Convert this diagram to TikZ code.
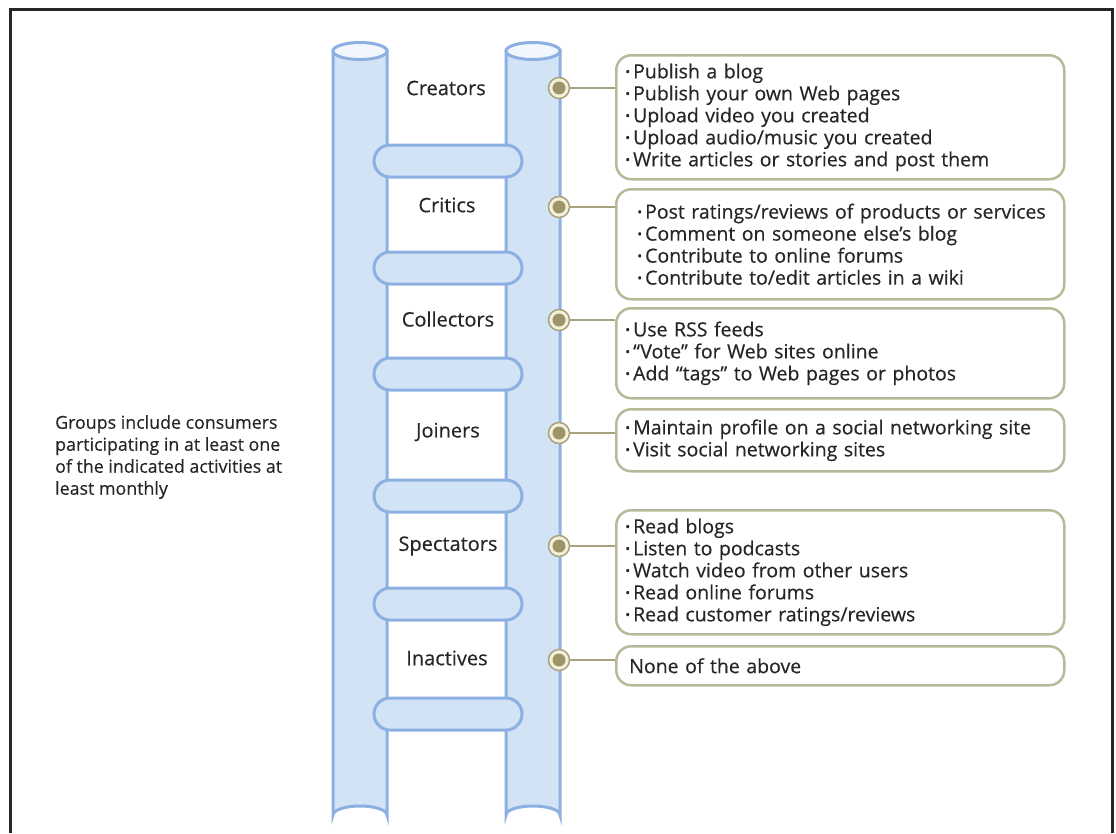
\documentclass[tikz,border=0pt]{standalone}
\usepackage{fontspec}
\setmainfont{Open Sans}[FakeBold=0.35]
\definecolor{poleFill}{HTML}{D2E3F6}
\definecolor{poleDraw}{HTML}{8CB0E2}
\definecolor{poleTop}{HTML}{F2F7FD}
\definecolor{boxDraw}{HTML}{B9B99A}
\definecolor{connCol}{HTML}{A9A27E}
\definecolor{dotOuter}{HTML}{F3F1DC}
\definecolor{dotInner}{HTML}{9C9567}
\definecolor{txtCol}{HTML}{262626}
\newcommand\itm{\raisebox{2pt}{\fontsize{13}{13}\selectfont•}\hspace{3pt}}
\newcommand\itmb{\hspace*{12pt}\itm}
\begin{document}
\begin{tikzpicture}[x=1pt,y=-1pt,
  every node/.style={text=txtCol,font=\fontsize{19.5}{22}\selectfont},
  pole/.style={fill=poleFill,draw=poleDraw,line width=3pt},
  rung/.style={fill=poleFill,draw=poleDraw,line width=3pt,rounded corners=16pt},
  grouplabel/.style={inner sep=0pt,font=\fontsize{20}{22}\selectfont},
  actbox/.style={draw=boxDraw,line width=2.5pt,rounded corners=15pt,fill=white,
    anchor=north west,align=left,minimum width=448pt,inner ysep=0pt,
    inner xsep=9pt,text width=430pt},
  dotmark/.style={circle,fill=dotOuter,draw=connCol,line width=1.5pt,minimum size=21pt,inner sep=0pt},
  connector/.style={draw=connCol,line width=2pt}]
\useasboundingbox (0,0) rectangle (1116,833);
\fill[white] (0,0) rectangle (1116,833);
% frame
\draw[line width=3pt,black!85] (10.5,833) -- (10.5,9) -- (1112,9) -- (1112,833);
% poles
\foreach \cx in {360,533}{
  \draw[pole] (\cx-27,51) -- (\cx-27,815) arc[start angle=180,end angle=360,x radius=27,y radius=9] -- (\cx+27,51) -- cycle;
  \draw[pole,fill=poleTop] (\cx,51) ellipse[x radius=27,y radius=8.5];
}
% rungs
\foreach \cy in {161,268,374,496,604,714}{
  \draw[rung] (374,\cy-16) rectangle (522,\cy+16);
}
% group labels
\node[grouplabel] (creators) at (446,88) {Creators};
\node[grouplabel] (critics) at (447,205) {Critics};
\node[grouplabel] (collectors) at (448,319) {Collectors};
\node[grouplabel] (joiners) at (448,432) {Joiners};
\node[grouplabel] (spectators) at (448,546) {Spectators};
\node[grouplabel] (inactives) at (447,658) {Inactives};
% side note
\node[anchor=north west,align=left,inner sep=0pt,font=\fontsize{17.8}{22}\selectfont] (note) at (55,415) {Groups include consumers\\participating in at least one\\of the indicated activities at\\least monthly};
% activity boxes
\node[actbox,minimum height=124pt] (b1) at (615,54)
  {\itm Publish a blog\\\itm Publish your own Web pages\\\itm Upload video you created\\\itm Upload audio/music you created\\\itm Write articles or stories and post them};
\node[actbox,minimum height=110pt] (b2) at (615,188)
  {\itmb Post ratings/reviews of products or services\\\itmb Comment on someone else’s blog\\\itmb Contribute to online forums\\\itmb Contribute to/edit articles in a wiki};
\node[actbox,minimum height=90pt] (b3) at (615,307)
  {\itm Use RSS feeds\\\itm “Vote” for Web sites online\\\itm Add “tags” to Web pages or photos};
\node[actbox,minimum height=62pt] (b4) at (615,408)
  {\itm Maintain profile on a social networking site\\\itm Visit social networking sites};
\node[actbox,minimum height=124pt] (b5) at (615,509)
  {\itm Read blogs\\\itm Listen to podcasts\\\itm Watch video from other users\\\itm Read online forums\\\itm Read customer ratings/reviews};
\node[actbox,minimum height=39pt] (b6) at (615,645)
  {\hspace*{4pt}None of the above};
% dots and connectors
\foreach \n/\y/\b in {1/88/b1,2/207/b2,3/320/b3,4/433/b4,5/546/b5,6/660/b6}{
  \node[dotmark] (d\n) at (559,\y) {};
  \fill[dotInner] (d\n) circle (6.5pt);
  \draw[connector] (d\n.east) -- (d\n -| \b.west);
}
\end{tikzpicture}
\end{document}
